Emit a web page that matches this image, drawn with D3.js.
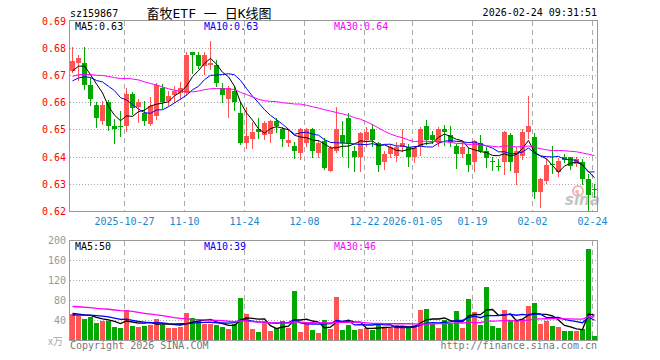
<!DOCTYPE html>
<html><head><meta charset="utf-8">
<script src="https://cdn.jsdelivr.net/npm/d3@7"></script>
<style>body{margin:0;background:#fff}svg{display:block}</style>
</head><body><svg id="c" width="660" height="360"></svg>
<script>
// ---------- data ----------
const dates = [
"2025-10-14","2025-10-15","2025-10-16","2025-10-17","2025-10-20","2025-10-21","2025-10-22","2025-10-23","2025-10-24",
"2025-10-27","2025-10-28","2025-10-29","2025-10-30","2025-10-31",
"2025-11-03","2025-11-04","2025-11-05","2025-11-06","2025-11-07",
"2025-11-10","2025-11-11","2025-11-12","2025-11-13","2025-11-14",
"2025-11-17","2025-11-18","2025-11-19","2025-11-20","2025-11-21",
"2025-11-24","2025-11-25","2025-11-26","2025-11-27","2025-11-28",
"2025-12-01","2025-12-02","2025-12-03","2025-12-04","2025-12-05",
"2025-12-08","2025-12-09","2025-12-10","2025-12-11","2025-12-12",
"2025-12-15","2025-12-16","2025-12-17","2025-12-18","2025-12-19",
"2025-12-22","2025-12-23","2025-12-24","2025-12-25","2025-12-26",
"2025-12-29","2025-12-30","2025-12-31",
"2026-01-05","2026-01-06","2026-01-07","2026-01-08","2026-01-09",
"2026-01-12","2026-01-13","2026-01-14","2026-01-15","2026-01-16",
"2026-01-19","2026-01-20","2026-01-21","2026-01-22","2026-01-23",
"2026-01-26","2026-01-27","2026-01-28","2026-01-29","2026-01-30",
"2026-02-02","2026-02-03","2026-02-04","2026-02-05","2026-02-06",
"2026-02-09","2026-02-10","2026-02-11","2026-02-12","2026-02-13",
"2026-02-24"];
const open = [
0.6716,0.6744,0.6744,0.6663,0.6590,0.6532,0.6601,0.6514,0.6512,0.6514,
0.6630,0.6582,0.6559,0.6521,0.6550,0.6652,0.6606,0.6625,0.6634,0.6634,
0.6783,0.6775,0.6734,0.6736,0.6736,0.6652,0.6613,0.6642,0.6560,0.6451,
0.6464,0.6502,0.6479,0.6482,0.6532,0.6500,0.6451,0.6439,0.6412,0.6449,
0.6500,0.6412,0.6459,0.6348,0.6419,0.6479,0.6543,0.6421,0.6400,0.6462,
0.6500,0.6449,0.6380,0.6410,0.6402,0.6436,0.6436,0.6400,0.6440,0.6512,
0.6479,0.6449,0.6501,0.6479,0.6439,0.6409,0.6409,0.6381,0.6451,0.6422,
0.6382,0.6367,0.6381,0.6479,0.6340,0.6402,0.6491,0.6473,0.6271,0.6310,
0.6371,0.6345,0.6397,0.6397,0.6372,0.6381,0.6318,0.6281];
const high = [
0.6802,0.6775,0.6802,0.6689,0.6600,0.6603,0.6608,0.6539,0.6569,0.6652,
0.6636,0.6610,0.6603,0.6619,0.6670,0.6665,0.6640,0.6660,0.6675,0.6783,
0.6783,0.6783,0.6783,0.6826,0.6754,0.6670,0.6660,0.6660,0.6601,0.6581,
0.6528,0.6543,0.6530,0.6535,0.6540,0.6510,0.6500,0.6455,0.6505,0.6505,
0.6505,0.6460,0.6470,0.6440,0.6581,0.6532,0.6560,0.6440,0.6490,0.6510,
0.6520,0.6455,0.6420,0.6445,0.6455,0.6501,0.6445,0.6440,0.6510,0.6534,
0.6494,0.6510,0.6515,0.6512,0.6445,0.6456,0.6430,0.6460,0.6479,0.6436,
0.6400,0.6390,0.6495,0.6485,0.6436,0.6500,0.6623,0.6485,0.6320,0.6395,
0.6439,0.6395,0.6410,0.6400,0.6400,0.6390,0.6335,0.6298];
const low = [
0.6710,0.6682,0.6650,0.6591,0.6509,0.6520,0.6498,0.6449,0.6477,0.6495,
0.6558,0.6527,0.6517,0.6517,0.6538,0.6579,0.6590,0.6601,0.6610,0.6625,
0.6707,0.6725,0.6702,0.6720,0.6660,0.6601,0.6546,0.6572,0.6447,0.6431,
0.6431,0.6470,0.6465,0.6455,0.6490,0.6440,0.6440,0.6395,0.6390,0.6440,
0.6400,0.6400,0.6355,0.6348,0.6415,0.6403,0.6360,0.6348,0.6348,0.6440,
0.6440,0.6348,0.6355,0.6400,0.6385,0.6420,0.6366,0.6379,0.6406,0.6448,
0.6449,0.6440,0.6442,0.6440,0.6357,0.6398,0.6348,0.6348,0.6415,0.6360,
0.6350,0.6350,0.6336,0.6350,0.6298,0.6390,0.6470,0.6246,0.6216,0.6302,
0.6339,0.6330,0.6380,0.6355,0.6365,0.6300,0.6205,0.6253];
const close = [
0.6753,0.6762,0.6664,0.6612,0.6542,0.6590,0.6514,0.6503,0.6510,0.6631,
0.6580,0.6601,0.6532,0.6585,0.6664,0.6601,0.6624,0.6642,0.6652,0.6775,
0.6775,0.6734,0.6775,0.6744,0.6670,0.6625,0.6652,0.6601,0.6450,0.6475,
0.6492,0.6492,0.6522,0.6532,0.6512,0.6464,0.6461,0.6422,0.6500,0.6500,
0.6422,0.6449,0.6359,0.6430,0.6501,0.6451,0.6451,0.6400,0.6485,0.6490,
0.6461,0.6369,0.6410,0.6436,0.6436,0.6451,0.6400,0.6430,0.6500,0.6461,
0.6461,0.6501,0.6491,0.6455,0.6409,0.6434,0.6369,0.6457,0.6422,0.6393,
0.6380,0.6365,0.6491,0.6381,0.6422,0.6491,0.6512,0.6271,0.6317,0.6368,
0.6369,0.6385,0.6388,0.6367,0.6390,0.6318,0.6259,0.6278];
const volume = [
53,49,42,47,35,39,39,27,25,60,
29,27,29,31,42,31,25,25,27,55,
45,39,33,33,31,27,23,33,85,53,
22,16,34,18,24,38,24,98,16,32,
20,14,40,22,87,20,30,20,22,25,
20,33,25,25,30,25,25,30,60,62,
33,25,40,33,58,25,83,57,30,107,
28,25,60,40,40,43,68,75,32,38,
29,27,19,18,18,22,182,9];
// closes / volumes before the visible window (estimated from the MA lines' starting levels)
const priorCloses = [
0.6600,0.6615,0.6630,0.6625,0.6610,0.6620,0.6635,0.6620,0.6610,0.6646,
0.6700,0.6740,0.6780,0.6810,0.6830,0.6820,0.6800,0.6790,0.6800,0.6789,
0.6655,0.6620,0.6640,0.6650,0.6645,0.6672,0.6664,0.6767,0.6715];
const priorVolumes = [
65,72,68,75,70,66,71,69,64,70,
85,80,78,90,75,82,88,76,84,82,
45,50,48,44,48,55,50,52,55];
const tickDates = ["2025-10-27","2025-11-10","2025-11-24","2025-12-08","2025-12-22","2026-01-05","2026-01-19","2026-02-02","2026-02-24"];
const tickLabels = ["2025-10-27","11-10","11-24","12-08","12-22","2026-01-05","01-19","02-02","02-24"];
const priceTicks = [0.69,0.68,0.67,0.66,0.65,0.64,0.63,0.62];
const volTicks = [200,160,120,80,40];
const maPeriods = [5,10,30];

// ---------- drawing ----------
const RED = "#ff5454", GREEN = "#00a800";
const maColors = ["#000000","#0000ff","#ff00ff"];
const MONO = "'DejaVu Sans Mono', monospace";
const svg = d3.select("#c");
const L = 70, R = 597;
const x = d3.scaleBand().domain(dates).range([L, R]).paddingInner(1/6).paddingOuter(0).align(0);
const y = d3.scaleLinear().domain([0.62, 0.69]).range([211, 20.5]);
const yv = d3.scaleLinear().domain([0, 200]).range([340, 240]);
const cx = d => Math.round(x(d)) + 2.5;
const px = v => Math.round(v) + 0.5;

function ma(series, prior, n) {
  const all = prior.concat(series), P = prior.length;
  return series.map((_, i) => d3.mean(all.slice(i + P - n + 1, i + P + 1)));
}

const data = dates.map((d, i) => ({d, o: open[i], h: high[i], l: low[i], c: close[i], v: volume[i], up: close[i] >= open[i]}));

svg.append("rect").attr("width", 660).attr("height", 360).attr("fill", "#fff");

// clip paths
svg.append("clipPath").attr("id", "cm").append("rect").attr("x", L).attr("y", 20).attr("width", R - L + 1).attr("height", 191);
svg.append("clipPath").attr("id", "cv").append("rect").attr("x", L).attr("y", 240).attr("width", R - L + 1).attr("height", 100);

function grid(top, bottom, hvals, ys) {
  const g = svg.append("g").attr("shape-rendering", "crispEdges");
  g.selectAll(".h").data(hvals).join("line")
    .attr("x1", L).attr("x2", R).attr("y1", v => px(ys(v))).attr("y2", v => px(ys(v)))
    .attr("stroke", "#aaa").attr("stroke-dasharray", "1,2");
  g.selectAll(".v").data(tickDates).join("line")
    .attr("x1", d => Math.round(x(d)) + 0.5).attr("x2", d => Math.round(x(d)) + 0.5)
    .attr("y1", top).attr("y2", bottom)
    .attr("stroke", "#aaa").attr("stroke-dasharray", "5,4");
}
grid(21, 211, [0.68,0.67,0.66,0.65,0.64,0.63], y);
grid(241, 340, [160,120,80,40], yv);

// sina watermark
const wm = svg.append("g");
wm.append("circle").attr("cx", 578).attr("cy", 191).attr("r", 5).attr("fill", "none").attr("stroke", "#f3b3b3").attr("stroke-width", 2);
wm.append("circle").attr("cx", 577).attr("cy", 191.5).attr("r", 1.8).attr("fill", "#f3b3b3");
wm.append("text").attr("x", 565).attr("y", 205).attr("font-family", "'DejaVu Sans', sans-serif")
  .attr("font-size", 15).attr("font-weight", "bold").attr("font-style", "italic").attr("fill", "#c4c4c4").text("sina");

// candles
const cg = svg.append("g").attr("clip-path", "url(#cm)").attr("shape-rendering", "crispEdges");
cg.selectAll(".w").data(data).join("line")
  .attr("x1", d => cx(d.d)).attr("x2", d => cx(d.d))
  .attr("y1", d => Math.round(y(d.h))).attr("y2", d => Math.round(y(d.l)) + 1)
  .attr("stroke", d => d.up ? RED : GREEN);
cg.selectAll(".b").data(data).join("rect")
  .attr("x", d => Math.round(x(d.d))).attr("width", 5)
  .attr("y", d => Math.round(y(Math.max(d.o, d.c))))
  .attr("height", d => Math.max(1, Math.round(y(Math.min(d.o, d.c))) - Math.round(y(Math.max(d.o, d.c)))))
  .attr("fill", d => d.up ? RED : GREEN);

// price MA
const priceMA = maPeriods.map(n => ma(close, priorCloses, n));
const lineM = d3.line().x((v, i) => cx(dates[i])).y(v => y(v));
const mg = svg.append("g").attr("clip-path", "url(#cm)");
priceMA.forEach((s, k) => mg.append("path").attr("d", lineM(s)).attr("fill", "none").attr("stroke", maColors[k]).attr("stroke-width", 1));

// volume bars
const vg = svg.append("g").attr("clip-path", "url(#cv)").attr("shape-rendering", "crispEdges");
vg.selectAll("rect").data(data).join("rect")
  .attr("x", d => Math.round(x(d.d))).attr("width", 5)
  .attr("y", d => Math.round(yv(d.v))).attr("height", d => 340 - Math.round(yv(d.v)))
  .attr("fill", d => d.up ? RED : GREEN);
const volMA = maPeriods.map(n => ma(volume, priorVolumes, n));
const lineV = d3.line().x((v, i) => cx(dates[i])).y(v => yv(v));
const vmg = svg.append("g").attr("clip-path", "url(#cv)");
volMA.forEach((s, k) => vmg.append("path").attr("d", lineV(s)).attr("fill", "none").attr("stroke", maColors[k]).attr("stroke-width", 1.3));

// frames
svg.append("rect").attr("x", L - 0.5).attr("y", 20.5).attr("width", R - L + 1).attr("height", 191)
  .attr("fill", "none").attr("stroke", "#999").attr("shape-rendering", "crispEdges");
svg.append("rect").attr("x", L - 0.5).attr("y", 240.5).attr("width", R - L + 1).attr("height", 100)
  .attr("fill", "none").attr("stroke", "#999").attr("shape-rendering", "crispEdges");

// axes text
const txt = (xx, yy, s, fill, anchor, size) => svg.append("text").attr("x", xx).attr("y", yy)
  .attr("font-family", MONO).attr("font-size", size || 10).attr("fill", fill).attr("text-anchor", anchor || "start").text(s);
priceTicks.forEach(v => txt(66, y(v) + 4, d3.format(".2f")(v), "#ff0000", "end"));
volTicks.forEach(v => txt(66, yv(v) + 4, String(v), "#999", "end"));
svg.append("text").attr("x", 48).attr("y", 345).attr("font-family", "'Noto Sans CJK SC', sans-serif").attr("font-size", 10).attr("fill", "#aaa").text("x万");
tickDates.forEach((d, i) => txt(Math.round(x(d)) + 0.5, 225, tickLabels[i], "#1a86d0", "middle"));

// titles
txt(70, 16.5, "sz159867", "#000");
svg.append("text").attr("x", 209).attr("y", 18).attr("text-anchor", "middle")
  .attr("font-family", "'DejaVu Sans Mono', 'Noto Sans CJK SC', monospace").attr("font-size", 13).attr("fill", "#000")
  .text("畜牧ETF 一 日K线图");
txt(597, 16, "2026-02-24 09:31:51", "#000", "end");

// MA legends
const labX = [75, 204, 334];
priceMA.forEach((s, k) => txt(labX[k], 29.5, "MA" + maPeriods[k] + ":" + s[s.length - 1].toFixed(2), maColors[k]));
volMA.forEach((s, k) => txt(labX[k], 249.5, "MA" + maPeriods[k] + ":" + Math.round(s[s.length - 1]), maColors[k]));

// footer
txt(70, 348.5, "Copyright 2026 SINA.COM", "#777");
txt(597, 348.5, "http://finance.sina.com.cn", "#777", "end");
</script>
</body></html>
